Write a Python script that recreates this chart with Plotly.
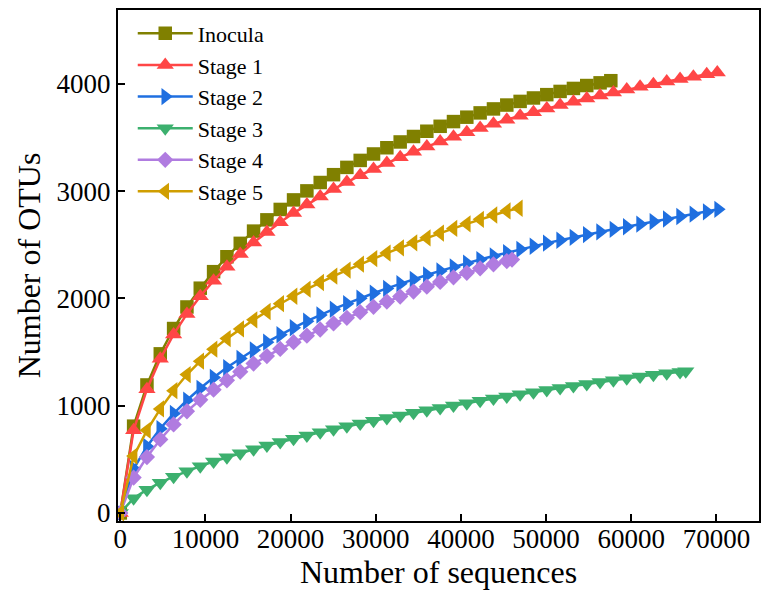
import plotly.graph_objects as go

# Sequencing depth grid (number of sequences subsampled)
depth_grid = [0, 1565, 3130, 4695, 6260, 7825, 9390, 10955, 12520, 14085,
              15650, 17215, 18780, 20345, 21910, 23475, 25040, 26605, 28170, 29735,
              31300, 32865, 34430, 35995, 37560, 39125, 40690, 42255, 43820, 45385,
              46950, 48515, 50080, 51645, 53210, 54775, 56340, 57905, 59470, 61035,
              62600, 64165, 65730, 67295, 68860]

series_names = ["Inocula", "Stage 1", "Stage 2", "Stage 3", "Stage 4", "Stage 5"]

# total sequences per sample (last point of each curve)
total_depth = [57600, 70100, 70200, 66400, 46000, 46800]

otus_inocula = [0, 809, 1193, 1483, 1719, 1920, 2095, 2249, 2388, 2513, 2627, 2732, 2829, 2918,
                3002, 3080, 3153, 3221, 3286, 3346, 3404, 3458, 3509, 3558, 3604, 3648, 3689,
                3729, 3766, 3802, 3836, 3868, 3899, 3929, 3957, 3984, 4009, 4029]
otus_stage1 = [0, 772, 1154, 1437, 1664, 1855, 2020, 2165, 2295, 2413, 2520, 2619, 2710, 2795,
               2875, 2949, 3019, 3085, 3147, 3206, 3262, 3316, 3367, 3415, 3462, 3506, 3548,
               3589, 3628, 3666, 3702, 3736, 3770, 3802, 3833, 3863, 3891, 3919, 3946, 3972,
               3997, 4021, 4044, 4066, 4088, 4105]
otus_stage2 = [0, 412, 620, 786, 927, 1051, 1162, 1263, 1355, 1440, 1519, 1592, 1661, 1726,
               1787, 1845, 1899, 1951, 2001, 2048, 2093, 2137, 2178, 2218, 2256, 2293, 2328,
               2362, 2395, 2426, 2457, 2486, 2515, 2542, 2569, 2595, 2620, 2644, 2668, 2692,
               2716, 2740, 2763, 2785, 2807, 2830]
otus_stage3 = [0, 138, 217, 282, 338, 389, 436, 479, 519, 557, 593, 628, 661, 692, 722, 752,
               780, 807, 834, 860, 885, 909, 933, 957, 979, 1002, 1023, 1045, 1066, 1086, 1106,
               1126, 1146, 1165, 1183, 1202, 1220, 1238, 1256, 1272, 1288, 1302, 1314, 1321]
otus_stage4 = [0, 330, 521, 685, 825, 948, 1054, 1149, 1236, 1317, 1392, 1462, 1529, 1592,
               1652, 1710, 1766, 1819, 1871, 1921, 1970, 2017, 2064, 2109, 2153, 2196, 2238,
               2280, 2318, 2348, 2362]
otus_stage5 = [0, 530, 770, 970, 1140, 1290, 1415, 1527, 1625, 1715, 1800, 1878, 1951, 2020,
               2086, 2148, 2207, 2264, 2319, 2371, 2422, 2471, 2518, 2564, 2609, 2652, 2695,
               2737, 2777, 2815, 2840]

x_ticks = [0, 10000, 20000, 30000, 40000, 50000, 60000, 70000]
x_tick_labels = ["0", "10000", "20000", "30000", "40000", "50000", "60000", "70000"]
y_ticks = [0, 1000, 2000, 3000, 4000]
y_tick_labels = ["0", "1000", "2000", "3000", "4000"]

all_otus = [otus_inocula, otus_stage1, otus_stage2, otus_stage3, otus_stage4, otus_stage5]
colors = ["#808000", "#FF4646", "#1F6FE0", "#3CB06E", "#B07CE0", "#D09E00"]
symbols = ["square", "triangle-up", "triangle-right", "triangle-down", "diamond", "triangle-left"]
sizes = [13.5, 15, 15, 15, 12.5, 15]

FONT = "Liberation Serif"

fig = go.Figure()
for name, otus, total, col, sym, sz in zip(series_names, all_otus, total_depth, colors, symbols, sizes):
    xs = depth_grid[:len(otus) - 1] + [total]
    fig.add_trace(go.Scatter(
        x=xs, y=otus, name=name, mode="lines+markers",
        line=dict(color=col, width=2.5),
        marker=dict(symbol=sym, size=sz, color=col, line=dict(width=0)),
    ))

axis_common = dict(
    showline=True, linecolor="black", linewidth=2, mirror=True,
    ticks="inside", ticklen=7, tickwidth=2, tickcolor="black",
    showgrid=False, zeroline=False,
    tickfont=dict(family=FONT, size=27, color="black"),
)

fig.update_layout(
    width=764, height=599,
    margin=dict(l=118, r=3, t=10, b=78),
    paper_bgcolor="white", plot_bgcolor="white",
    font=dict(family=FONT, color="black"),
    xaxis=dict(range=[-270, 75000], tickvals=x_ticks, ticktext=x_tick_labels,
               ticklabelstandoff=-7,
               title=dict(text="Number of sequences", font=dict(family=FONT, size=32), standoff=2),
               **axis_common),
    yaxis=dict(range=[-75, 4688], tickvals=y_ticks, ticktext=y_tick_labels,
               title=dict(text="Number of OTUs", font=dict(family=FONT, size=32), standoff=6),
               **axis_common),
    legend=dict(x=0.023, y=0.995, xanchor="left", yanchor="top",
                font=dict(family=FONT, size=22, color="black"),
                bgcolor="rgba(0,0,0,0)", borderwidth=0, itemwidth=55,
                tracegroupgap=0),
    showlegend=True,
)

fig.write_html("out.html")
